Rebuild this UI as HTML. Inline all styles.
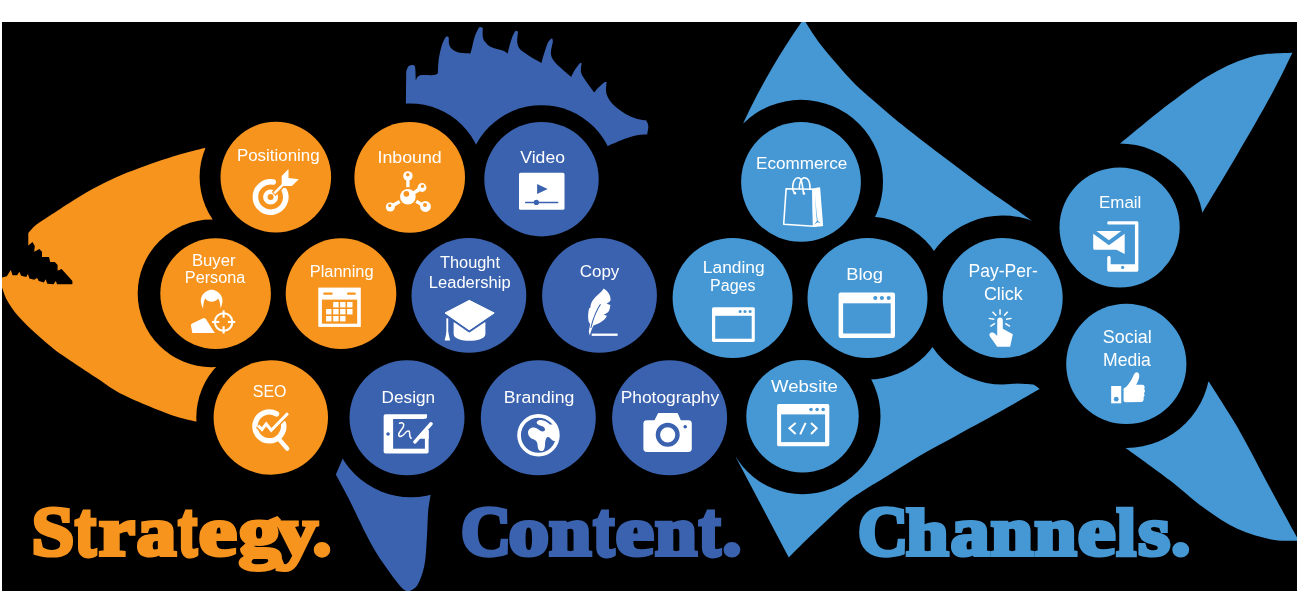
<!DOCTYPE html>
<html><head><meta charset="utf-8"><title>Strategy. Content. Channels.</title>
<style>
html,body{margin:0;padding:0;background:#fff;}
body{width:1300px;height:614px;overflow:hidden;font-family:"Liberation Sans",sans-serif;}
svg{display:block;position:absolute;left:0;top:0}
.lbl{font-family:"Liberation Sans",sans-serif;font-size:16px;fill:#fff;text-anchor:start}
.big{font-family:"Liberation Serif",serif;font-weight:bold;font-size:71px;stroke-linejoin:miter;stroke-miterlimit:2.5}
</style></head><body>
<svg width="1300" height="614" viewBox="0 0 1300 614">
<defs><filter id="noaa" x="0" y="0" width="1300" height="614" filterUnits="userSpaceOnUse"><feOffset dx="0" dy="0"/></filter><clipPath id="bg"><rect x="2" y="22" width="1295" height="569"/></clipPath></defs>
<rect x="0" y="0" width="1300" height="614" fill="#fff"/>
<rect x="2" y="22" width="1295" height="569" fill="#000"/>
<g clip-path="url(#bg)">
<!-- body shapes -->
<path fill="#F7941E" d="M28.3,233.0 C29.6,231.7 32.9,227.5 35.9,225.0 C38.9,222.5 40.7,221.6 46.3,217.9 C51.9,214.2 61.7,207.7 69.4,202.9 C77.1,198.1 84.8,193.2 92.5,189.0 C100.2,184.8 108.0,180.9 115.7,177.4 C123.4,173.9 131.1,171.1 138.8,168.2 C146.5,165.3 154.2,162.6 161.9,160.1 C169.6,157.6 178.0,155.1 185.1,153.1 C192.2,151.1 201.4,148.8 204.7,148.0 L275.8,177.1 L215.6,293.6 L270.8,417.5 L195.9,421.6 C192.6,420.8 184.3,419.4 176.0,416.6 C167.7,413.8 155.8,409.1 146.0,405.0 C136.2,400.9 125.2,396.0 117.3,391.7 C109.4,387.4 106.2,384.4 98.6,379.3 C91.0,374.2 79.2,366.5 71.7,361.4 C64.2,356.3 59.8,353.5 53.8,348.9 C47.8,344.3 41.8,339.1 35.8,333.6 C29.8,328.1 22.7,321.2 17.9,315.7 C13.1,310.2 9.8,305.2 7.2,300.5 C4.6,295.8 2.9,289.7 2.0,287.5 L2.0,277.5 L6.8,276.3 L10.8,270.1 L12.5,275.2 L17.1,275.2 L19.4,271.8 L21.1,275.8 L26.2,276.9 L27.9,274.0 L29.4,278.6 L34.2,279.8 L37.1,278.0 L38.8,280.9 L43.9,282.6 L45.6,279.2 L47.3,283.7 L53.6,284.3 L55.9,280.9 L57.0,284.3 L72.4,284.3 L72.4,280.9 L61.6,268.9 L57.6,270.6 L57.6,264.9 L54.8,262.1 L50.2,262.1 L49.0,256.9 L42.0,256.9 L42.0,251.8 L39.4,249.0 L34.2,251.8 L34.8,246.1 L32.5,242.1 L28.3,245.5 L28.3,233.0Z"/>
<path fill="#3A62AE" d="M405.9,103.0 L406.2,71.8 C406.5,71.0 407.2,67.8 408.1,66.7 C409.0,65.6 410.6,65.0 411.7,64.9 C412.8,64.8 414.1,65.1 414.7,66.0 C415.3,66.9 415.2,68.0 415.4,70.4 C415.6,72.8 415.7,78.9 415.8,80.6 C416.1,80.0 416.6,77.9 417.6,77.0 C418.6,76.1 419.3,75.4 422.0,75.1 C424.7,74.8 431.1,75.3 433.7,75.1 C436.3,74.8 437.1,73.8 437.8,73.6 C438.0,71.1 438.1,63.3 438.8,58.6 C439.5,53.9 440.7,48.9 441.8,45.4 C442.9,41.9 444.5,38.9 445.4,37.4 C446.3,35.9 446.6,36.5 447.2,36.5 C447.8,36.5 448.5,37.2 448.8,37.4 C448.9,38.5 448.6,42.0 449.1,44.0 C449.6,46.0 450.4,47.7 452.0,49.1 C453.6,50.5 455.6,51.8 458.6,52.5 C461.7,53.2 468.4,53.3 470.3,53.5 C470.6,52.6 471.1,51.2 471.8,48.4 C472.5,45.6 473.6,40.0 474.7,36.7 C475.8,33.4 477.5,30.2 478.4,28.6 C479.3,27.0 479.6,27.0 480.3,26.9 C481.0,26.8 482.4,27.7 482.8,27.9 C482.8,29.4 482.4,34.4 482.8,36.7 C483.2,39.0 483.6,40.1 485.0,41.8 C486.4,43.5 488.0,45.4 490.9,46.9 C493.8,48.4 499.8,49.5 502.6,50.6 C505.4,51.7 506.9,53.0 507.7,53.5 C507.9,52.4 508.5,49.6 509.2,46.9 C509.9,44.2 511.1,40.0 512.1,37.4 C513.1,34.8 514.3,32.6 515.0,31.5 C515.7,30.4 516.0,30.9 516.5,30.9 C517.0,30.9 517.8,31.4 518.0,31.5 C517.9,33.3 517.0,39.7 517.3,42.5 C517.5,45.3 518.3,46.7 519.5,48.4 C520.7,50.1 522.6,51.3 524.6,52.8 C526.6,54.3 528.9,55.7 531.7,57.4 C534.5,59.1 539.9,62.0 541.5,62.9 C541.8,61.6 542.5,58.6 543.5,55.4 C544.5,52.2 546.3,46.4 547.4,43.7 C548.5,41.0 549.5,40.2 550.3,39.4 C551.1,38.6 551.9,38.4 552.3,38.8 C552.7,39.2 552.8,41.2 552.9,41.7 C552.6,43.7 550.7,50.2 550.9,53.5 C551.1,56.8 552.4,58.7 554.2,61.3 C556.1,63.9 559.2,66.5 562.0,69.1 C564.8,71.7 569.7,75.6 571.2,76.9 C571.8,75.8 573.4,72.3 574.8,70.1 C576.2,67.9 578.5,64.8 579.6,63.6 C580.7,62.5 581.3,63.3 581.6,63.2 C581.5,64.7 580.5,69.4 581.0,72.0 C581.5,74.6 582.3,75.5 584.5,78.9 C586.7,82.3 592.7,90.3 594.3,92.6 C594.9,91.8 596.6,89.4 598.2,87.7 C599.8,86.0 602.7,83.4 604.1,82.4 C605.5,81.5 606.2,82.1 606.6,82.0 C606.5,83.4 605.8,88.0 606.0,90.6 C606.2,93.2 606.7,95.0 608.0,97.5 C609.3,100.0 611.0,102.5 613.9,105.3 C616.8,108.1 621.7,111.8 625.6,114.1 C629.5,116.4 633.9,118.0 637.3,119.0 C640.7,120.0 644.6,120.1 646.1,120.3 C646.5,121.2 648.1,123.4 648.3,125.8 C648.5,128.2 647.3,133.1 647.1,134.6 C645.5,134.7 640.9,134.5 637.3,135.2 C633.7,135.8 630.3,136.8 625.6,138.5 C620.9,140.2 611.8,144.2 609.0,145.4 L541.5,179.2 L475.6,178.0 L409.7,177.4 L405.9,103.0Z"/>
<path fill="#3A62AE" d="M342.7,458.5 L335.9,474.4 C338.0,478.5 342.6,486.6 348.8,498.8 C355.0,511.0 365.2,533.7 373.3,547.7 C381.4,561.7 392.0,575.6 397.7,583.0 C403.4,590.4 405.8,590.5 407.4,592.0 C409.0,590.9 414.3,590.0 417.2,585.5 C420.1,581.0 422.9,573.1 424.5,564.8 C426.1,556.5 426.4,544.5 427.0,535.5 C427.6,526.5 427.6,517.7 428.2,511.0 C428.8,504.3 430.2,497.8 430.6,495.2 L411.0,450.0 L342.7,458.5Z"/>
<path fill="#4698D4" d="M743.3,123.2 C744.7,120.3 747.8,113.3 751.5,106.0 C755.2,98.7 760.4,88.6 765.8,79.1 C771.2,69.5 777.5,58.7 783.8,48.7 C790.1,38.7 800.2,23.9 803.5,19.0 C806.2,23.1 813.9,35.7 819.6,43.3 C825.3,50.9 831.5,57.9 837.5,64.8 C843.5,71.7 849.4,78.5 855.4,84.5 C861.4,90.5 867.4,95.3 873.4,100.6 C879.4,105.9 885.3,111.1 891.3,116.1 C897.3,121.1 900.2,123.4 909.2,130.4 C918.2,137.4 933.2,148.9 945.1,158.0 C957.0,167.1 969.0,176.2 980.9,184.9 C992.8,193.6 1008.2,204.0 1016.7,210.0 C1025.2,216.0 1029.1,218.9 1031.6,220.7 L1002.7,298.0 L867.5,298.0 L801.0,181.8 L743.3,123.2Z"/>
<path fill="#4698D4" d="M736.1,457.7 L788.8,557.5 C791.4,554.9 798.5,547.6 804.7,541.6 C810.9,535.6 818.8,528.1 825.8,521.5 C832.8,514.9 840.0,507.6 847.0,502.0 C854.0,496.4 862.6,491.2 868.1,487.6 C873.6,484.0 871.7,485.6 880.0,480.5 C888.3,475.4 905.4,464.2 918.1,456.7 C930.8,449.2 943.5,442.7 956.2,435.7 C968.9,428.7 983.2,421.0 994.3,414.8 C1005.4,408.6 1015.4,402.9 1022.9,398.6 C1030.5,394.3 1036.8,390.6 1039.6,389.0 C1038.8,388.4 1036.5,386.4 1035.0,385.6 C1033.5,384.8 1035.7,384.7 1030.5,384.3 C1025.3,383.9 1008.4,383.2 1004.0,383.0 L1004.0,382.0 L1002.7,298.0 L867.5,298.0 L802.5,416.3 L736.1,457.7Z"/>
<path fill="#4698D4" d="M1119.9,143.8 C1128.2,137.1 1154.2,115.2 1169.5,103.6 C1184.8,91.9 1197.8,81.8 1211.9,73.9 C1226.0,66.0 1240.8,59.6 1254.2,56.1 C1267.6,52.6 1286.0,53.3 1292.4,52.7 C1288.9,59.8 1280.4,78.1 1271.2,95.1 C1262.0,112.0 1248.8,134.8 1237.3,154.4 C1225.8,174.0 1208.3,202.8 1202.5,212.5 L1119.6,227.5 L1119.9,143.8Z"/>
<path fill="#4698D4" d="M1208.9,381.8 C1213.6,389.4 1227.6,410.4 1237.3,427.1 C1247.0,443.8 1256.5,462.9 1266.9,482.2 C1277.4,501.5 1294.5,532.9 1300.0,543.0 C1300.0,542.7 1304.8,541.6 1300.0,541.0 C1295.2,540.4 1281.7,541.4 1271.2,539.4 C1260.8,537.4 1248.6,534.1 1237.3,528.8 C1226.0,523.5 1214.7,515.7 1203.4,507.6 C1192.1,499.5 1182.6,490.1 1169.5,480.1 C1156.4,470.1 1132.4,452.9 1125.0,447.5 L1126.3,363.9 L1208.9,381.8Z"/>
<!-- black rings -->
<g fill="#000">
<circle cx="275.2" cy="177.1" r="75.6"/>
<circle cx="211.5" cy="293.4" r="73.8"/>
<circle cx="270.8" cy="417.5" r="74.5"/>
<circle cx="409.7" cy="177.4" r="74.0"/>
<circle cx="541.5" cy="179.2" r="74.0"/>
<circle cx="411.0" cy="417.6" r="79.7"/>
<circle cx="801.0" cy="181.8" r="82.0"/>
<circle cx="867.5" cy="298.0" r="81.5"/>
<circle cx="1002.7" cy="300.0" r="84.5"/>
<circle cx="802.5" cy="416.3" r="78.0"/>
<circle cx="1119.6" cy="227.5" r="84.0"/>
<circle cx="1126.3" cy="363.9" r="84.0"/>
</g>
<!-- discs -->
<circle cx="275.8" cy="177.1" r="55.3" fill="#F7941E"/>
<circle cx="409.7" cy="177.4" r="55.3" fill="#F7941E"/>
<circle cx="215.6" cy="293.6" r="55.3" fill="#F7941E"/>
<circle cx="341.0" cy="293.6" r="55.3" fill="#F7941E"/>
<circle cx="270.8" cy="417.5" r="57.2" fill="#F7941E"/>
<circle cx="541.5" cy="179.2" r="57.2" fill="#3A62AE"/>
<circle cx="468.9" cy="295.4" r="57.4" fill="#3A62AE"/>
<circle cx="599.5" cy="295.4" r="57.4" fill="#3A62AE"/>
<circle cx="407.0" cy="417.8" r="57.5" fill="#3A62AE"/>
<circle cx="538.3" cy="417.8" r="57.5" fill="#3A62AE"/>
<circle cx="669.6" cy="417.8" r="57.5" fill="#3A62AE"/>
<circle cx="801.0" cy="181.8" r="59.9" fill="#4698D4"/>
<circle cx="732.6" cy="298.0" r="60.0" fill="#4698D4"/>
<circle cx="867.5" cy="298.0" r="60.0" fill="#4698D4"/>
<circle cx="1002.7" cy="298.0" r="60.0" fill="#4698D4"/>
<circle cx="1119.6" cy="227.5" r="60.1" fill="#4698D4"/>
<circle cx="1126.3" cy="363.9" r="60.1" fill="#4698D4"/>
<circle cx="802.5" cy="416.3" r="56.2" fill="#4698D4"/>
<!-- labels -->
<g filter="url(#noaa)">
<text class="lbl" style="font-size:16.0px" x="236.91" y="160.7" textLength="82.68" lengthAdjust="spacingAndGlyphs">Positioning</text>
<text class="lbl" style="font-size:16.0px" x="377.56" y="162.5" textLength="64.18" lengthAdjust="spacingAndGlyphs">Inbound</text>
<text class="lbl" style="font-size:16.0px" x="520.32" y="162.5" textLength="44.61" lengthAdjust="spacingAndGlyphs">Video</text>
<text class="lbl" style="font-size:16.0px" x="756.10" y="168.7" textLength="91.16" lengthAdjust="spacingAndGlyphs">Ecommerce</text>
<text class="lbl" style="font-size:16.0px" x="191.93" y="266.1" textLength="43.65" lengthAdjust="spacingAndGlyphs">Buyer</text>
<text class="lbl" style="font-size:16.0px" x="184.87" y="282.5" textLength="60.43" lengthAdjust="spacingAndGlyphs">Persona</text>
<text class="lbl" style="font-size:16.0px" x="309.76" y="276.7" textLength="63.80" lengthAdjust="spacingAndGlyphs">Planning</text>
<text class="lbl" style="font-size:16.0px" x="440.03" y="268.0" textLength="59.99" lengthAdjust="spacingAndGlyphs">Thought</text>
<text class="lbl" style="font-size:16.0px" x="428.84" y="287.6" textLength="81.75" lengthAdjust="spacingAndGlyphs">Leadership</text>
<text class="lbl" style="font-size:16.0px" x="579.74" y="276.7" textLength="39.59" lengthAdjust="spacingAndGlyphs">Copy</text>
<text class="lbl" style="font-size:16.3px" x="702.87" y="272.9" textLength="61.85" lengthAdjust="spacingAndGlyphs">Landing</text>
<text class="lbl" style="font-size:16.0px" x="710.09" y="291.3" textLength="45.39" lengthAdjust="spacingAndGlyphs">Pages</text>
<text class="lbl" style="font-size:16.7px" x="846.29" y="280.3" textLength="36.79" lengthAdjust="spacingAndGlyphs">Blog</text>
<text class="lbl" style="font-size:17.9px" x="968.56" y="276.9" textLength="69.22" lengthAdjust="spacingAndGlyphs">Pay-Per-</text>
<text class="lbl" style="font-size:17.9px" x="983.89" y="299.6" textLength="38.78" lengthAdjust="spacingAndGlyphs">Click</text>
<text class="lbl" style="font-size:16.3px" x="1099.01" y="207.9" textLength="42.32" lengthAdjust="spacingAndGlyphs">Email</text>
<text class="lbl" style="font-size:17.8px" x="1102.78" y="342.8" textLength="48.92" lengthAdjust="spacingAndGlyphs">Social</text>
<text class="lbl" style="font-size:17.8px" x="1103.06" y="365.7" textLength="47.84" lengthAdjust="spacingAndGlyphs">Media</text>
<text class="lbl" style="font-size:17.1px" x="252.78" y="397.0" textLength="33.69" lengthAdjust="spacingAndGlyphs">SEO</text>
<text class="lbl" style="font-size:16.0px" x="381.59" y="402.5" textLength="53.53" lengthAdjust="spacingAndGlyphs">Design</text>
<text class="lbl" style="font-size:16.0px" x="503.75" y="402.5" textLength="70.69" lengthAdjust="spacingAndGlyphs">Branding</text>
<text class="lbl" style="font-size:16.0px" x="620.68" y="402.5" textLength="98.46" lengthAdjust="spacingAndGlyphs">Photography</text>
<text class="lbl" style="font-size:16.0px" x="771.12" y="392.0" textLength="66.60" lengthAdjust="spacingAndGlyphs">Website</text>
</g>
<!-- ICONS -->
<g id="i-positioning">
<path d="M284.38,190.58 A15.20,15.20 0 1 1 273.24,182.03" fill="none" stroke="#fff" stroke-width="5.6" stroke-linecap="round"/>
<circle cx="270.6" cy="197.0" r="5.25" fill="none" stroke="#fff" stroke-width="4.5"/>
<line x1="273.6" y1="194.0" x2="284" y2="183.6" stroke="#F7941E" stroke-width="5.6"/>
<line x1="274.2" y1="193.4" x2="285" y2="182.6" stroke="#fff" stroke-width="2.5"/>
<path d="M281.70,184.60 L281.70,176.10 L288.50,169.00 L288.50,177.90 L298.80,179.30 L291.90,185.90 L283.00,185.90Z" fill="#fff"/>
</g>
<g id="i-inbound">
<line x1="407.9" y1="196.8" x2="407.9" y2="175.9" stroke="#fff" stroke-width="3.3"/>
<line x1="407.9" y1="196.8" x2="422.0" y2="187.5" stroke="#fff" stroke-width="3.3"/>
<line x1="407.9" y1="196.8" x2="425.5" y2="206.5" stroke="#fff" stroke-width="3.3"/>
<line x1="407.9" y1="196.8" x2="390.3" y2="207.0" stroke="#fff" stroke-width="3.3"/>
<circle cx="407.9" cy="196.8" r="9.7" fill="#F7941E"/>
<line x1="407.9" y1="196.8" x2="422.0" y2="187.5" stroke="#fff" stroke-width="3.3"/>
<circle cx="407.9" cy="196.8" r="7.8" fill="#fff"/>
<circle cx="406.4" cy="193.8" r="2.9" fill="#F7941E"/>
<circle cx="407.9" cy="175.9" r="4.7" fill="#fff"/>
<circle cx="407.7" cy="174.8" r="1.8" fill="#F7941E"/>
<circle cx="422.0" cy="187.5" r="4.4" fill="#fff"/>
<circle cx="422.5" cy="186.3" r="1.7" fill="#F7941E"/>
<circle cx="425.5" cy="206.5" r="5.4" fill="#fff"/>
<circle cx="425.0" cy="205.1" r="2.0" fill="#F7941E"/>
<circle cx="390.3" cy="207.0" r="4.5" fill="#fff"/>
<circle cx="389.8" cy="205.6" r="1.7" fill="#F7941E"/>
</g>
<g id="i-video">
<rect x="519" y="172.8" width="45.5" height="37" rx="1.6" fill="#fff"/>
<path d="M537.1,184.1 L537.1,194 L547.7,189Z" fill="#3A62AE"/>
<line x1="525.7" y1="202.4" x2="557.7" y2="202.4" stroke="#3A62AE" stroke-width="1.5" stroke-linecap="round"/>
<circle cx="536.4" cy="202.4" r="2.6" fill="#3A62AE"/>
</g>
<g id="i-ecom" fill="none" stroke="#fff" stroke-width="1.6" stroke-linejoin="round" stroke-linecap="round">
<path d="M786.13,188.77 L813.01,189.26 L813.70,226.21 L783.69,224.25Z"/>
<path d="M813.01,189.26 L819.36,188.08 L822.30,225.52 L813.70,226.21Z" fill="#fff"/>
<path d="M814.18,224.74 L816.92,220.83 L815.94,212.03 L815.26,194.44 L816.43,212.03 L817.70,220.83 L820.83,223.57 L817.41,222.30Z" fill="#4698D4" stroke="none"/>
<path d="M794.44,192.97 C791.02,188.57 792.97,177.82 798.35,177.82 C802.75,177.82 802.26,188.57 803.72,193.46"/>
<path d="M799.33,188.57 C799.33,182.71 801.28,177.82 804.41,177.82 C808.61,177.82 810.08,183.69 810.08,189.06"/>
<circle cx="794.93" cy="193.17" r="1.3" fill="#fff" stroke="none"/>
<circle cx="803.92" cy="193.46" r="1.3" fill="#fff" stroke="none"/>
</g>
<g id="i-buyer" fill="#fff">
<path d="M203.08,308.66 C200.64,303.57 200.15,299.66 201.62,296.73 C203.57,291.84 208.46,289.69 211.59,289.69 C214.81,289.69 219.70,291.84 221.66,296.73 C223.12,299.66 222.63,303.57 220.68,308.26 C220.39,304.55 219.70,301.13 218.24,298.49 C216.28,300.64 213.84,301.81 211.59,301.81 C209.44,301.81 206.99,300.64 205.23,298.49 C203.77,301.13 203.18,304.55 203.08,308.66 Z"/>
<path d="M192.33,333.09 L191.06,326.06 C190.87,324.59 191.35,323.91 192.62,323.32 L203.57,318.04 L205.72,318.72 L214.81,333.09 Z"/>
<circle cx="223.61" cy="321.95" r="8.75" fill="none" stroke="#fff" stroke-width="2.1"/>
<line x1="223.61" y1="317.65" x2="223.61" y2="310.35" stroke="#fff" stroke-width="2.1"/>
<line x1="223.61" y1="326.25" x2="223.61" y2="333.55" stroke="#fff" stroke-width="2.1"/>
<line x1="219.31" y1="321.95" x2="212.01" y2="321.95" stroke="#fff" stroke-width="2.1"/>
<line x1="227.91" y1="321.95" x2="235.21" y2="321.95" stroke="#fff" stroke-width="2.1"/>
</g>
<g id="i-planning">
<rect x="318.3" y="287.6" width="42.5" height="39.3" fill="#fff"/>
<rect x="321.9" y="299.6" width="35.3" height="24.1" fill="#F7941E"/>
<rect x="323.2" y="292.5" width="9.5" height="2.3" rx="1.1" fill="#F7941E"/>
<rect x="347.0" y="292.5" width="8.8" height="2.3" rx="1.1" fill="#F7941E"/>
<rect x="333.2" y="302.0" width="5.4" height="5.4" fill="#fff"/>
<rect x="340.1" y="302.0" width="5.4" height="5.4" fill="#fff"/>
<rect x="347.1" y="302.0" width="5.4" height="5.4" fill="#fff"/>
<rect x="326.1" y="309.0" width="5.4" height="5.4" fill="#fff"/>
<rect x="333.2" y="309.0" width="5.4" height="5.4" fill="#fff"/>
<rect x="340.1" y="309.0" width="5.4" height="5.4" fill="#fff"/>
<rect x="347.1" y="309.0" width="5.4" height="5.4" fill="#fff"/>
<rect x="326.1" y="316.0" width="5.4" height="5.4" fill="#fff"/>
<rect x="333.2" y="316.0" width="5.4" height="5.4" fill="#fff"/>
<rect x="340.1" y="316.0" width="5.4" height="5.4" fill="#fff"/>
</g>
<g id="i-thought" fill="#fff">
<path d="M453.64,322.26 L453.64,333.99 C453.64,338.88 462.44,340.83 469.48,340.83 C476.61,340.83 485.41,338.88 485.41,333.99 L485.41,322.26 Z"/>
<path d="M444.06,312.97 L469.28,299.78 L495.18,312.97 L469.28,330.57Z" stroke="#3A62AE" stroke-width="3.6" stroke-linejoin="round"/>
<path d="M445.04,312.97 L469.28,300.36 L494.21,312.97 L469.28,329.88Z" stroke="#fff" stroke-width="1.0" stroke-linejoin="round"/>
<line x1="447.29" y1="318.35" x2="447.29" y2="333.01" stroke="#fff" stroke-width="1.9"/>
<path d="M446.21,332.23 L448.36,332.23 L448.75,334.48 L450.12,340.44 L444.65,340.44 L446.02,334.48Z"/>
</g>
<g id="i-copy" fill="#fff">
<path d="M603.72,288.60 C601.28,292.71 596.39,295.64 592.97,300.04 C591.02,302.97 590.53,305.42 590.33,307.86 L589.16,308.35 C588.08,312.26 587.79,317.15 588.57,321.54 L590.14,324.18 C589.55,326.92 589.16,329.36 588.77,331.81 L589.84,335.43 C590.72,331.81 591.99,328.39 593.46,325.45 C596.88,324.48 600.30,323.01 602.75,320.86 C604.70,319.10 605.97,317.63 606.95,315.68 L603.53,314.80 C606.17,313.72 607.93,312.75 608.91,311.09 C609.88,309.13 610.27,307.17 610.27,305.02 L606.66,303.66 C608.61,302.68 609.88,301.70 610.57,300.33 C610.86,296.13 608.61,291.73 603.72,288.60 Z"/>
<path d="M600.50,304.24 C596.39,310.30 592.97,319.10 590.82,327.90 " fill="none" stroke="#3A62AE" stroke-width="1.1"/>
<rect x="591.70" y="333.57" width="25.90" height="2.3" fill="#fff"/>
</g>
<g id="i-landing">
<rect x="712" y="307.2" width="42.8" height="34.7" rx="1.6" fill="#fff"/>
<rect x="715.2" y="315.8" width="36.5" height="22.9" fill="#4698D4"/>
<circle cx="740.1" cy="311.6" r="1.5" fill="#4698D4"/>
<circle cx="745.0" cy="311.6" r="1.5" fill="#4698D4"/>
<circle cx="750.1" cy="311.6" r="1.5" fill="#4698D4"/>
</g>
<g id="i-blog">
<rect x="838.6" y="292.5" width="56.4" height="45.6" rx="2" fill="#fff"/>
<rect x="843.1" y="303.3" width="47.6" height="30.2" fill="#4698D4"/>
<circle cx="875.3" cy="298" r="2.05" fill="#4698D4"/>
<circle cx="881.9" cy="298" r="2.05" fill="#4698D4"/>
<circle cx="888.7" cy="298" r="2.05" fill="#4698D4"/>
</g>
<g id="i-ppc" fill="#fff">
<path d="M997.22,320.33 C997.22,316.62 1002.79,316.62 1002.79,320.33 L1002.79,328.84 L1012.86,334.21 L1010.12,346.73 L997.22,346.73 L989.79,336.36 C988.81,334.70 989.60,333.04 991.35,332.55 C992.72,332.26 993.99,332.75 994.97,333.72 L997.22,335.97 Z"/>
<line x1="1000.05" y1="309.29" x2="1000.05" y2="314.66" stroke="#fff" stroke-width="1.5"/>
<line x1="992.53" y1="311.73" x2="996.24" y2="315.84" stroke="#fff" stroke-width="1.5"/>
<line x1="1007.68" y1="311.73" x2="1004.06" y2="315.84" stroke="#fff" stroke-width="1.5"/>
<line x1="988.81" y1="318.38" x2="994.29" y2="319.35" stroke="#fff" stroke-width="1.5"/>
<line x1="1006.02" y1="319.35" x2="1011.59" y2="318.38" stroke="#fff" stroke-width="1.5"/>
<line x1="990.38" y1="326.39" x2="994.97" y2="323.46" stroke="#fff" stroke-width="1.5"/>
<line x1="1005.24" y1="323.46" x2="1009.93" y2="326.39" stroke="#fff" stroke-width="1.5"/>
</g>
<g id="i-email" fill="#fff">
<path d="M1108.94,221.27 L1136.88,221.27 C1137.79,221.27 1138.36,221.84 1138.36,222.75 L1138.36,270.30 C1138.36,271.09 1137.79,271.66 1136.88,271.66 L1108.71,271.66 C1107.80,271.66 1107.23,271.09 1107.23,270.30 L1107.23,257.75 C1107.23,255.47 1110.65,255.47 1110.65,257.75 L1110.65,264.25 L1134.94,264.25 L1134.94,224.58 L1108.94,224.58 C1106.66,224.58 1106.66,221.27 1108.94,221.27 Z"/>
<circle cx="1122.62" cy="267.45" r="1.6" fill="#4698D4"/>
<path d="M1093.21,233.81 L1108.94,245.21 L1124.68,233.81 L1124.68,253.99 L1116.35,249.77 L1094.12,249.77 L1093.21,248.86Z"/>
<path d="M1096.40,230.96 L1121.26,230.96 L1108.94,240.31Z"/>
</g>
<g id="i-social" fill="#fff">
<rect x="1111.17" y="386.02" width="10.07" height="17.30"/>
<circle cx="1116.26" cy="399.21" r="2.4" fill="#4698D4"/>
<path d="M1123.59,388.46 L1126.33,386.70 C1129.26,383.57 1131.70,379.66 1133.36,375.75 C1134.63,372.82 1136.10,372.04 1137.08,372.33 C1139.03,372.82 1139.82,374.78 1139.03,377.71 C1138.54,380.15 1137.27,382.60 1136.10,384.84 L1142.45,384.84 C1144.90,385.04 1145.09,387.97 1144.12,388.95 C1145.39,389.93 1145.09,392.37 1143.92,393.15 C1144.90,394.33 1144.61,396.48 1143.43,397.26 C1144.12,398.72 1143.73,401.66 1141.48,401.95 L1125.84,402.15 C1124.37,402.15 1123.59,401.36 1123.59,400.19 Z"/>
</g>
<g id="i-seo">
<path d="M283.41,423.40 A14.40,14.40 0 1 1 276.53,413.92" fill="none" stroke="#fff" stroke-width="5.4" stroke-linecap="round"/>
<line x1="278.61" y1="438.61" x2="287.21" y2="448.58" stroke="#fff" stroke-width="4.4" stroke-linecap="round"/>
<path d="M258.08,425.61 L261.99,429.52 L266.20,423.95 L271.28,430.30 L287.90,413.20" fill="none" stroke="#F7941E" stroke-width="6.0" stroke-linejoin="miter"/>
<path d="M258.08,425.61 L261.99,429.52 L266.20,423.95 L271.28,430.30 L287.90,413.20" fill="none" stroke="#fff" stroke-width="3.0" stroke-linejoin="miter"/>
</g>
<g id="i-design">
<rect x="383.65" y="414.29" width="44.97" height="39.30" rx="1.8" fill="#fff"/>
<rect x="393.13" y="418.98" width="31.77" height="29.72" fill="#3A62AE"/>
<circle cx="388.05" cy="434.03" r="1.8" fill="#3A62AE"/>
<path d="M427.05,413.60 L429.30,413.60 L429.30,430.61 L423.92,430.61 L423.92,418.78 L425.88,418.78 L427.05,417.51Z" fill="#3A62AE"/>
<path d="M399.48,423.28 C401.93,422.11 404.37,423.08 403.59,426.02 C402.61,429.44 398.51,431.88 398.70,434.81 C398.99,437.75 402.61,436.28 404.86,433.35 C406.33,431.20 408.77,429.93 409.45,431.88 C410.04,434.33 408.77,437.26 411.90,438.72 " fill="none" stroke="#fff" stroke-width="1.5" stroke-linecap="round"/>
<path d="M418.06,438.72 L425.09,429.93 L428.61,429.93 L428.61,438.72Z" fill="#fff"/>
<line x1="413.75" y1="440.78" x2="429.88" y2="422.60" stroke="#3A62AE" stroke-width="6" stroke-linecap="round"/>
<line x1="414.93" y1="441.95" x2="431.06" y2="423.77" stroke="#fff" stroke-width="3.5" stroke-linecap="round"/>
</g>
<g id="i-branding">
<clipPath id="gl"><circle cx="538.47" cy="435.22" r="18.5"/></clipPath>
<path d="M549.86,424.58 C548.96,423.24 545.96,420.84 542.22,420.24 C540.34,419.94 537.72,420.09 536.82,422.11 C536.37,423.24 537.35,424.73 540.72,425.63 C542.97,426.23 545.06,427.36 545.06,429.60 C545.06,431.48 542.59,432.07 540.72,431.10 C538.85,429.98 536.97,427.88 533.98,427.58 C531.36,427.36 527.99,429.23 527.99,432.60 C527.99,435.60 529.86,438.22 533.23,439.34 C535.85,440.31 537.35,441.59 537.57,444.96 C537.72,447.96 538.47,451.10 541.47,451.10 C544.31,451.10 544.84,447.96 545.06,444.21 C545.21,440.84 545.96,437.32 547.84,437.09 C549.71,437.09 550.83,439.34 552.33,440.31 C553.45,441.06 554.35,441.36 555.33,441.36 L562.44,441.36 L562.44,424.58 Z" fill="#fff" clip-path="url(#gl)"/>
<circle cx="538.47" cy="435.22" r="19.4" fill="none" stroke="#fff" stroke-width="3.7"/>
</g>
<g id="i-photo">
<rect x="643.4" y="420.2" width="48.4" height="31.7" rx="3.4" fill="#fff"/>
<path d="M654.66,421.62 L658.57,413.80 L677.15,413.80 L680.57,421.62Z" fill="#fff" stroke="#fff" stroke-width="1.5" stroke-linejoin="round"/>
<circle cx="667.7" cy="434.8" r="9.8" fill="none" stroke="#3A62AE" stroke-width="4.4"/>
<circle cx="685.2" cy="426.7" r="1.8" fill="#3A62AE"/>
</g>
<g id="i-website">
<rect x="777.1" y="404.1" width="52.2" height="42.2" rx="1.6" fill="#fff"/>
<rect x="781.1" y="414.4" width="44" height="27.7" fill="#4698D4"/>
<circle cx="811.0" cy="409.5" r="1.8" fill="#4698D4"/>
<circle cx="817.1" cy="409.5" r="1.8" fill="#4698D4"/>
<circle cx="823.2" cy="409.5" r="1.8" fill="#4698D4"/>
<g fill="none" stroke="#fff" stroke-width="2">
<path d="M795.65,422.93 L789.38,428.29 L795.65,433.99"/>
<path d="M805.57,422.93 L800.21,434.33"/>
<path d="M811.04,422.93 L816.74,428.29 L811.04,433.99"/>
</g></g>
<!-- HEADLINES -->
<g class="big" style="font-size:69.6px" fill="#F7941E" stroke="#F7941E" stroke-width="4.4">
<text transform="translate(31.85,554.6) scale(1.092,1.000)" vector-effect="non-scaling-stroke">S</text>
<text transform="translate(75.31,554.6) scale(0.883,1.100)" vector-effect="non-scaling-stroke">t</text>
<text transform="translate(98.93,554.6) scale(1.159,1.000)" vector-effect="non-scaling-stroke">r</text>
<text transform="translate(136.77,554.6) scale(1.130,1.000)" vector-effect="non-scaling-stroke">a</text>
<text transform="translate(178.51,554.6) scale(0.791,1.100)" vector-effect="non-scaling-stroke">t</text>
<text transform="translate(198.67,554.6) scale(1.232,1.000)" vector-effect="non-scaling-stroke">e</text>
<text transform="translate(238.70,554.6) scale(1.199,1.000)" vector-effect="non-scaling-stroke">g</text>
<text transform="translate(275.98,554.6) scale(1.199,1.000)" vector-effect="non-scaling-stroke">y</text>
<text transform="translate(312.75,554.6) scale(1.064,1.000)" vector-effect="non-scaling-stroke">.</text>
</g>
<g class="big" style="font-size:69.6px" fill="#3A62AE" stroke="#3A62AE" stroke-width="4.4">
<text transform="translate(461.01,554.6) scale(0.996,1.000)" vector-effect="non-scaling-stroke">C</text>
<text transform="translate(508.41,554.6) scale(1.166,1.000)" vector-effect="non-scaling-stroke">o</text>
<text transform="translate(549.06,554.6) scale(1.090,1.000)" vector-effect="non-scaling-stroke">n</text>
<text transform="translate(593.50,554.6) scale(0.892,1.100)" vector-effect="non-scaling-stroke">t</text>
<text transform="translate(615.54,554.6) scale(1.243,1.000)" vector-effect="non-scaling-stroke">e</text>
<text transform="translate(654.88,554.6) scale(1.081,1.000)" vector-effect="non-scaling-stroke">n</text>
<text transform="translate(698.96,554.6) scale(0.924,1.100)" vector-effect="non-scaling-stroke">t</text>
<text transform="translate(722.49,554.6) scale(1.081,1.000)" vector-effect="non-scaling-stroke">.</text>
</g>
<g class="big" style="font-size:69.6px" fill="#4698D4" stroke="#4698D4" stroke-width="4.4">
<text transform="translate(858.01,554.6) scale(0.996,1.000)" vector-effect="non-scaling-stroke">C</text>
<text transform="translate(905.90,554.6) scale(1.097,0.945)" vector-effect="non-scaling-stroke">h</text>
<text transform="translate(950.80,554.6) scale(1.114,1.000)" vector-effect="non-scaling-stroke">a</text>
<text transform="translate(990.76,554.6) scale(1.090,1.000)" vector-effect="non-scaling-stroke">n</text>
<text transform="translate(1034.57,554.6) scale(1.084,1.000)" vector-effect="non-scaling-stroke">n</text>
<text transform="translate(1077.80,554.6) scale(1.220,1.000)" vector-effect="non-scaling-stroke">e</text>
<text transform="translate(1116.76,554.6) scale(0.983,0.945)" vector-effect="non-scaling-stroke">l</text>
<text transform="translate(1138.32,554.6) scale(1.177,1.000)" vector-effect="non-scaling-stroke">s</text>
<text transform="translate(1171.27,554.6) scale(1.090,1.000)" vector-effect="non-scaling-stroke">.</text>
</g>
</g>
</svg>
</body></html>
